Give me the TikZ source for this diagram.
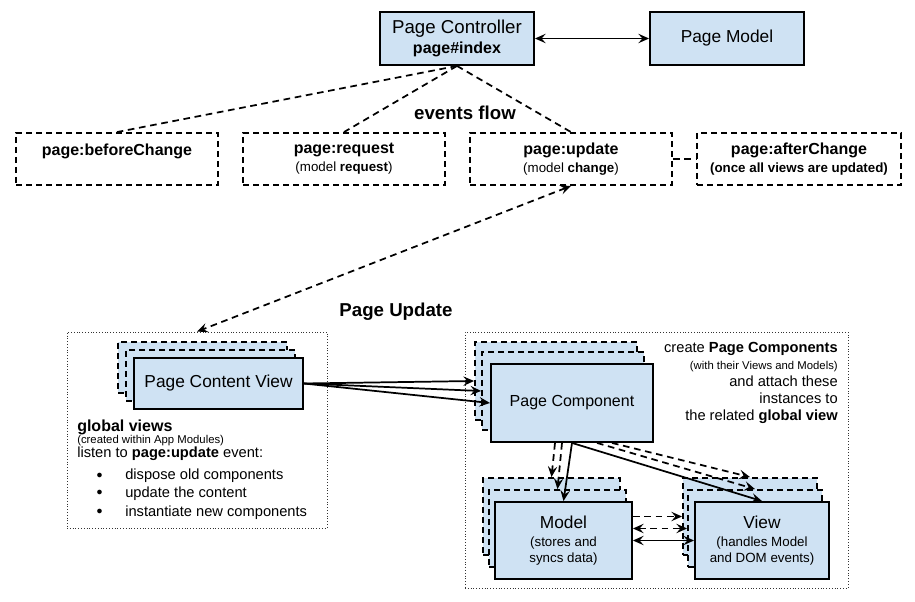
\documentclass[tikz,border=0pt]{standalone}
\usepackage{fontspec}
\setmainfont{Liberation Sans}
\usetikzlibrary{arrows.meta,calc,positioning}
\definecolor{boxblue}{HTML}{CFE2F3}

\begin{document}
\begin{tikzpicture}[x=0.75pt,y=-0.75pt,align=center,>={Stealth[length=8pt,width=7pt,inset=3pt]}]
\tikzstyle{box}=[draw=black,fill=boxblue,line width=1.4pt,inner sep=0pt]
\tikzstyle{stackbox}=[box,dash pattern=on 4.5pt off 3pt]
\tikzstyle{eventbox}=[draw=black,line width=1.4pt,dash pattern=on 4.5pt off 3pt,minimum width=151.5pt,minimum height=39pt,inner sep=0pt,font=\fontsize{12}{13.5}\selectfont\bfseries]
\tikzstyle{group}=[draw=black!80,line width=0.6pt,dash pattern=on 0.6pt off 1.5pt,inner sep=0pt]
\tikzstyle{flow}=[line width=1.3pt,dash pattern=on 5pt off 3.5pt]
\tikzstyle{link}=[line width=1.3pt]
\tikzstyle{note}=[anchor=base west,inner sep=0pt]

\useasboundingbox (0,0) rectangle (915,602);

% controller and its model
\node[box,minimum width=115.5pt,minimum height=39.75pt,font=\fontsize{12}{15}\selectfont] (ctrl) at (457,38.5) {{\fontsize{14}{16}\selectfont Page Controller}\\\textbf{page\#index}};
\node[box,minimum width=115.5pt,minimum height=39.75pt,font=\fontsize{13}{15}\selectfont] (pmodel) at (727,38.5) {Page Model};
\draw[link,<->] (ctrl) -- (pmodel);

% events
\node[eventbox] (before) at (117,159) {page:beforeChange\\\mbox{}};
\node[eventbox] (request) at (344,159) {page:request\\{\fontsize{10}{13.5}\selectfont\mdseries (model \textbf{request})}};
\node[eventbox] (update) at (571,159) {page:update\\{\fontsize{10}{13.5}\selectfont\mdseries (model \textbf{change})}};
\node[eventbox,minimum width=153pt] (after) at (799,159) {page:afterChange\\{\fontsize{10}{13.5}\selectfont (once all views are updated)}};
\node[font=\fontsize{14}{16}\selectfont\bfseries] (flow) at (465,113) {events flow};

\path[flow] (ctrl.south) edge (before.north) edge (request.north) edge (update.north);
\draw[flow] (update.east) -- (after.west);

% global views
\node[group,minimum width=195pt,minimum height=147pt] (global) at (197,430) {};
\node[font=\fontsize{14}{16}\selectfont\bfseries] (pu) at (396,312) {Page Update};
\draw[flow,<->] (update.south) -- (global.north);

\node[stackbox,minimum width=126.75pt,minimum height=38.25pt] (pcv2) at (202.5,367.5) {};
\node[stackbox,minimum width=126.75pt,minimum height=38.25pt] (pcv1) at (210.5,375.5) {};
\node[box,minimum width=126.75pt,minimum height=38.25pt,font=\fontsize{13}{15}\selectfont] (pcv) at (218.5,383.5) {Page Content View};

\node[note,font=\fontsize{12}{14}\selectfont\bfseries] (gv) at (77,432) {global views};
\node[note,font=\fontsize{8.5}{10}\selectfont] (gvnote) at (77,444) {(created within App Modules)};
\node[note,font=\fontsize{11}{13}\selectfont] (listen) at (77,458) {listen to \textbf{page:update} event:};
\node[note,font=\fontsize{11}{13}\selectfont] (task1) at (96,480) {\makebox[21.75pt][l]{\raisebox{1.5pt}{\fontsize{8}{8}\selectfont ●}}dispose old components};
\node[note,font=\fontsize{11}{13}\selectfont] (task2) at (96,498) {\makebox[21.75pt][l]{\raisebox{1.5pt}{\fontsize{8}{8}\selectfont ●}}update the content};
\node[note,font=\fontsize{11}{13}\selectfont] (task3) at (96,517) {\makebox[21.75pt][l]{\raisebox{1.5pt}{\fontsize{8}{8}\selectfont ●}}instantiate new components};

% page components
\node[group,minimum width=287.25pt,minimum height=192pt] (local) at (656.5,460) {};

\node[stackbox,minimum width=121.5pt,minimum height=58.5pt] (pcs1) at (556,381) {};
\node[stackbox,minimum width=121.5pt,minimum height=58.5pt] (pcs2) at (563,391) {};
\node[box,minimum width=121.5pt,minimum height=58.5pt,font=\fontsize{12}{14}\selectfont] (pc) at (572,403) {Page Component};

\node[stackbox,minimum width=102.75pt,minimum height=57.75pt] (ms1) at (551.5,516.5) {};
\node[stackbox,minimum width=102.75pt,minimum height=57.75pt] (ms2) at (557.5,528.5) {};
\node[box,minimum width=102.75pt,minimum height=57.75pt,font=\fontsize{10}{12}\selectfont] (m) at (563.5,540.5) {{\fontsize{13}{15}\selectfont Model}\\[2pt](stores and\\syncs data)};

\node[stackbox,minimum width=100.5pt,minimum height=57.75pt] (vs1) at (750,516.5) {};
\node[stackbox,minimum width=100.5pt,minimum height=57.75pt] (vs2) at (755,528.5) {};
\node[box,minimum width=100.5pt,minimum height=57.75pt,font=\fontsize{10}{12}\selectfont] (v) at (762,540.5) {{\fontsize{13}{15}\selectfont View}\\[2pt](handles Model\\and DOM events)};

\node[anchor=east,align=right,inner sep=0pt,font=\fontsize{11}{12.75}\selectfont] (pctext) at (838,383) {create \textbf{Page Components}\\{\fontsize{8.5}{12.75}\selectfont (with their Views and Models)}\\and attach these\\instances to\\the related \textbf{global view}};

\draw[link,->] (pcv.east) -- (pcs1.west);
\draw[link,->] (pcv.east) -- (pcs2.west);
\draw[link,->] (pcv.east) -- (pc.west);

\draw[flow,->] ([xshift=-12.75pt]pc.south) -- (ms1.north);
\draw[flow,->] ([xshift=-7.5pt]pc.south) -- (ms2.north);
\draw[link,->] (pc.south) -- (m.north);
\draw[flow,->] ([xshift=30pt]pc.south) -- (vs1.north);
\draw[flow,->] ([xshift=18.75pt]pc.south) -- (vs2.north);
\draw[link,->] (pc.south) -- (v.north);

\draw[flow,->] (vs1.west -| m.east) -- (vs1.west);
\draw[flow,<->] (vs2.west -| m.east) -- (vs2.west);
\draw[link,<->] (m.east) -- (v.west);
\end{tikzpicture}
\end{document}
